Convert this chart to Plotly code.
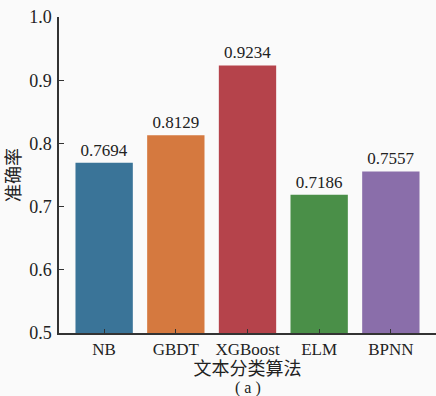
import plotly.graph_objects as go

categories = ["NB", "GBDT", "XGBoost", "ELM", "BPNN"]
accuracy = [0.7694, 0.8129, 0.9234, 0.7186, 0.7557]
bar_colors = ["#3a7498", "#d5793f", "#b5434b", "#4a8f48", "#8a6eaa"]
y_ticks = [0.5, 0.6, 0.7, 0.8, 0.9, 1.0]

serif = "Liberation Serif, Times New Roman, serif"
cjk = "Liberation Serif, Noto Sans CJK SC, serif"

fig = go.Figure(go.Bar(
    x=categories, y=accuracy,
    marker=dict(color=bar_colors, line=dict(width=0)),
    width=0.8,
    text=[f"{v:.4f}" for v in accuracy],
    textposition="outside",
    textfont=dict(family=serif, size=17, color="#222"),
    cliponaxis=False,
))

fig.update_layout(
    width=436, height=396,
    margin=dict(l=59, r=0, t=17, b=63),
    paper_bgcolor="#fafafa", plot_bgcolor="#fafafa",
    showlegend=False,
    bargap=0.2,
    xaxis=dict(
        range=[-0.63, 4.63], automargin=False,
        showline=True, linecolor="#333", linewidth=1.5,
        ticks="inside", ticklen=4, tickcolor="#333",
        tickfont=dict(family=serif, size=17, color="#222"),
        title=dict(text="文本分类算法", font=dict(family=cjk, size=18, color="#222"), standoff=3),
        showgrid=False, zeroline=False,
    ),
    yaxis=dict(
        range=[0.5, 1.0], automargin=False,
        tickvals=y_ticks, ticktext=[f"{v:.1f}" for v in y_ticks],
        showline=True, linecolor="#333", linewidth=1.5,
        ticks="inside", ticklen=5, tickcolor="#333",
        ticklabelstandoff=2,
        tickfont=dict(family=serif, size=18, color="#222"),
        title=dict(text="准确率", font=dict(family=cjk, size=18, color="#222"), standoff=4),
        showgrid=False, zeroline=False,
    ),
    annotations=[dict(
        text="( a )", xref="paper", yref="paper", x=0.5, y=0, yshift=-55,
        yanchor="middle", showarrow=False,
        font=dict(family=serif, size=16, color="#222"),
    )],
)

fig.write_html(
    "out.html",
    config={"displayModeBar": False},
    post_script="document.body.style.margin='0';document.body.style.background='#fafafa';",
)
